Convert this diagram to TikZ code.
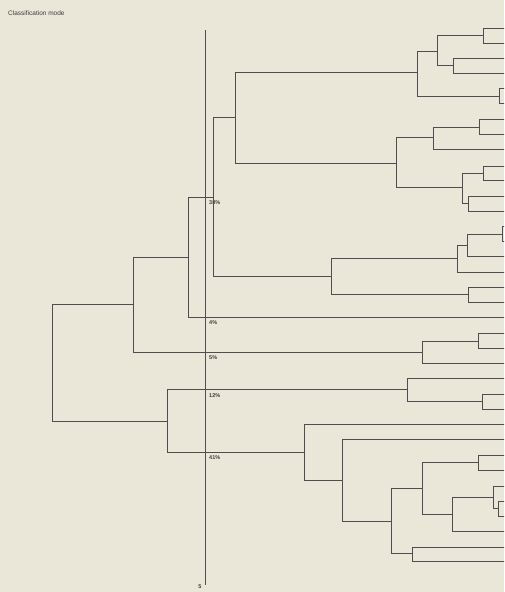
\documentclass[tikz,border=0pt]{standalone}
\usepackage{fontspec}
\setmainfont{Liberation Sans}
\definecolor{paper}{RGB}{234,231,216}
\definecolor{ink}{RGB}{78,78,82}
\definecolor{txt}{RGB}{60,60,60}
\tikzset{
  br/.style={draw=ink, line width=1pt},
  pct/.style={anchor=west, inner sep=0pt, font=\fontsize{5.5}{5.5}\selectfont\bfseries, text=txt},
}
\newcommand\brk[5]{\draw[br] (#4,#2) -- (#1,#2) -- (#1,#3) -- (#5,#3);}
\begin{document}
\begin{tikzpicture}[x=1pt,y=-1pt]
\fill[paper] (0,0) rectangle (504,592);
\useasboundingbox (0,0) rectangle (504,592);
\clip (0,0) rectangle (504,592);
\node[anchor=west, inner sep=0pt, font=\fontsize{6.5}{6.5}\selectfont, text=txt] (title) at (8,13) {Classification mode};
% reference line
\coordinate (rtop) at (205,30);
\coordinate (rbot) at (205,585);
\draw[br] (rtop) -- (rbot);
\node[pct] (p38) at (209,203) {38\%};
\node[pct] (p4) at (209,323) {4\%};
\node[pct] (p5) at (209,358) {5\%};
\node[pct] (p12) at (209,396) {12\%};
\node[pct] (p41) at (209,458) {41\%};
\node[pct, anchor=north] (five) at (200,585) {5};
% dendrogram
\brk{52}{304}{421}{133}{167}
\brk{133}{257}{352}{188}{422}
\brk{188}{197}{317}{213}{510}
\brk{213}{117}{276}{235}{331}
\brk{235}{72}{163}{417}{396}
\brk{417}{51}{96}{437}{499}
\brk{437}{35}{65}{483}{453}
\brk{483}{28}{43}{510}{510}
\brk{453}{58}{73}{510}{510}
\brk{499}{88}{103}{510}{510}
\brk{396}{137}{187}{433}{462}
\brk{433}{127}{149}{479}{510}
\brk{479}{119}{134}{510}{510}
\brk{462}{173}{203}{483}{468}
\brk{483}{166}{180}{510}{510}
\brk{468}{196}{211}{510}{510}
\brk{331}{258}{294}{457}{468}
\brk{457}{245}{272}{467}{510}
\brk{467}{234}{256}{502}{510}
\brk{502}{226}{241}{510}{510}
\brk{468}{287}{302}{510}{510}
\brk{422}{341}{363}{478}{510}
\brk{478}{333}{348}{510}{510}
\brk{167}{389}{452}{407}{304}
\brk{407}{378}{401}{510}{482}
\brk{482}{394}{409}{510}{510}
\brk{304}{424}{480}{510}{342}
\brk{342}{439}{521}{510}{391}
\brk{391}{488}{553}{422}{412}
\brk{422}{462}{514}{478}{452}
\brk{478}{455}{470}{510}{510}
\brk{452}{497}{531}{493}{510}
\brk{493}{486}{508}{510}{498}
\brk{498}{501}{516}{510}{510}
\brk{412}{547}{561}{510}{510}
\end{tikzpicture}
\end{document}
